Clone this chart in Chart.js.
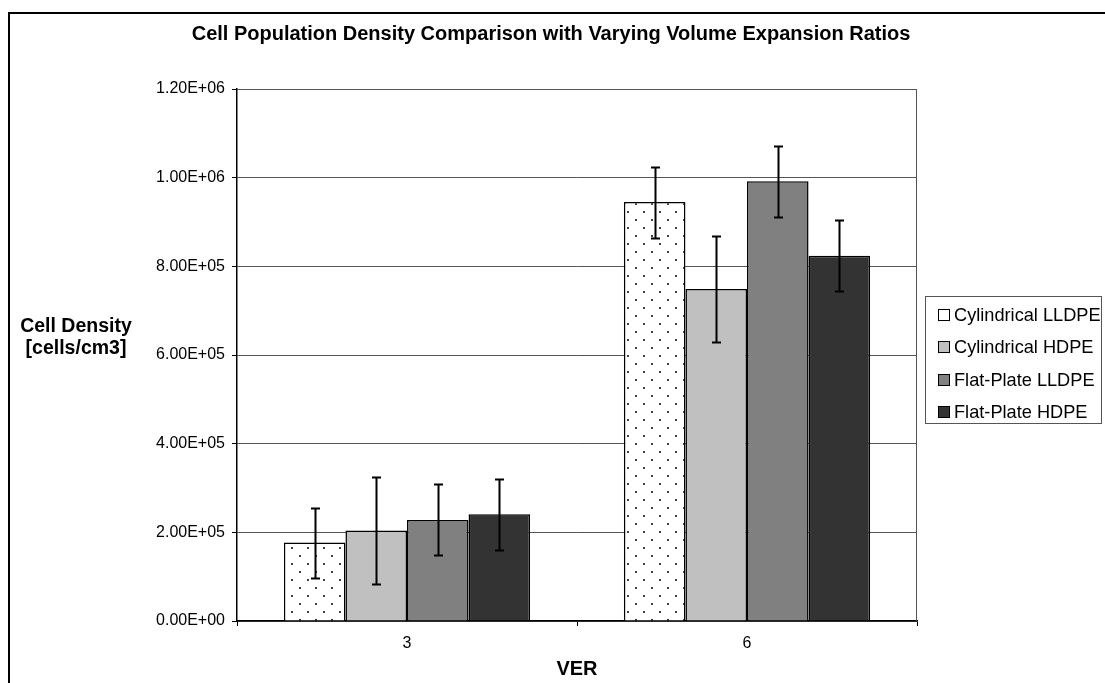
<!DOCTYPE html>
<html>
<head>
<meta charset="utf-8">
<script src="https://cdn.jsdelivr.net/npm/chart.js@4.4.1/dist/chart.umd.min.js"></script>
<style>
  html, body { margin: 0; padding: 0; background: #fff; }
  canvas { display: block; }
</style>
</head>
<body>
<canvas id="c" width="1105" height="683"></canvas>
<script>
// Volume expansion ratios (x categories)
const categories = ['3', '6'];
const seriesNames = ['Cylindrical LLDPE', 'Cylindrical HDPE', 'Flat-Plate LLDPE', 'Flat-Plate HDPE'];

// Mean cell density [cells/cm3] per series
const cylLLDPE  = [1.77e5, 9.45e5];
const cylHDPE   = [2.04e5, 7.49e5];
const flatLLDPE = [2.28e5, 9.92e5];
const flatHDPE  = [2.41e5, 8.24e5];

// Error bar half-widths (+/-)
const cylLLDPEErr  = [7.9e4, 8.0e4];
const cylHDPEErr   = [1.2e5, 1.2e5];
const flatLLDPEErr = [8.0e4, 8.0e4];
const flatHDPEErr  = [8.0e4, 8.0e4];

// Value axis tick values
const yTicks = [0, 2e5, 4e5, 6e5, 8e5, 1.0e6, 1.2e6];

const FONT = "'Liberation Sans', Arial, Helvetica, sans-serif";

// Excel-style scientific label: 1.20E+06
function sci(v) {
  const parts = Number(v).toExponential(2).split('e');
  const sign = parts[1][0];
  const digits = parts[1].slice(1).padStart(2, '0');
  return parts[0] + 'E' + sign + digits;
}

// Dotted fill for the first series
function dotPattern() {
  const t = document.createElement('canvas');
  t.width = 16; t.height = 16;
  const g = t.getContext('2d');
  g.fillStyle = '#fff';
  g.fillRect(0, 0, 16, 16);
  g.fillStyle = '#444';
  g.fillRect(3, 3, 2, 2);
  g.fillRect(11, 11, 2, 2);
  return document.getElementById('c').getContext('2d').createPattern(t, 'repeat');
}

const fills = [dotPattern(), '#c0c0c0', '#808080', '#333333'];
const swatches = ['#ffffff', '#c0c0c0', '#808080', '#333333'];
const values = [cylLLDPE, cylHDPE, flatLLDPE, flatHDPE];
const errors = [cylLLDPEErr, cylHDPEErr, flatLLDPEErr, flatHDPEErr];

const datasets = seriesNames.map((name, i) => ({
  label: name,
  data: values[i],
  errors: errors[i],
  backgroundColor: fills[i],
  borderColor: '#000',
  borderWidth: 1.5,
  categoryPercentage: 0.724,
  barPercentage: 1.0
}));

const decorations = {
  id: 'decorations',
  beforeDraw(chart) {
    const ctx = chart.ctx;
    ctx.save();
    ctx.fillStyle = '#fff';
    ctx.fillRect(0, 0, chart.width, chart.height);
    // outer chart frame
    ctx.strokeStyle = '#000';
    ctx.lineWidth = 2;
    ctx.strokeRect(9, 13, 1300, 900);
    ctx.restore();
  },
  beforeDatasetsDraw(chart) {
    const ctx = chart.ctx, a = chart.chartArea;
    ctx.save();
    ctx.strokeStyle = '#555';
    ctx.lineWidth = 1;
    ctx.beginPath();
    ctx.moveTo(a.left, a.top + 0.5);
    ctx.lineTo(a.right - 0.5, a.top + 0.5);
    ctx.lineTo(a.right - 0.5, a.bottom);
    ctx.stroke();
    ctx.restore();
  },
  afterDatasetsDraw(chart) {
    const ctx = chart.ctx, y = chart.scales.y;
    ctx.save();
    ctx.strokeStyle = '#000';
    ctx.lineWidth = 2;
    chart.data.datasets.forEach((ds, i) => {
      const meta = chart.getDatasetMeta(i);
      meta.data.forEach((bar, j) => {
        const v = ds.data[j], e = ds.errors[j];
        const x = Math.round(bar.x) + 0.5;
        const yt = Math.round(y.getPixelForValue(v + e)) + 0.5;
        const yb = Math.round(y.getPixelForValue(v - e)) + 0.5;
        ctx.beginPath();
        ctx.moveTo(x, yt); ctx.lineTo(x, yb);
        ctx.moveTo(x - 4.5, yt); ctx.lineTo(x + 4.5, yt);
        ctx.moveTo(x - 4.5, yb); ctx.lineTo(x + 4.5, yb);
        ctx.stroke();
      });
    });
    ctx.restore();
  },
  afterDraw(chart) {
    const ctx = chart.ctx;
    ctx.save();
    ctx.fillStyle = '#000';
    ctx.textBaseline = 'middle';
    ctx.textAlign = 'center';
    // chart title
    ctx.font = 'bold 20px ' + FONT;
    ctx.fillText('Cell Population Density Comparison with Varying Volume Expansion Ratios', 551, 34);
    // value axis title (horizontal, two lines)
    ctx.font = 'bold 19.5px ' + FONT;
    ctx.fillText('Cell Density', 76, 327);
    ctx.fillText('[cells/cm3]', 76, 349);
    // category axis title
    ctx.font = 'bold 20px ' + FONT;
    ctx.fillText('VER', 577, 669);

    // legend
    const lx = 925, ly = 296, lw = 176, lh = 127;
    ctx.strokeStyle = '#555';
    ctx.lineWidth = 1;
    ctx.strokeRect(lx + 0.5, ly + 0.5, lw, lh);
    ctx.textAlign = 'left';
    ctx.font = '18.2px ' + FONT;
    chart.data.datasets.forEach((ds, i) => {
      const cy = 314.5 + i * 32.5;
      ctx.fillStyle = swatches[i];
      ctx.fillRect(938, Math.round(cy - 6), 12, 12);
      ctx.strokeStyle = '#000';
      ctx.strokeRect(938.5, Math.round(cy - 6) + 0.5, 11, 11);
      ctx.fillStyle = '#000';
      ctx.fillText(ds.label, 954, cy + 1);
    });
    ctx.restore();
  }
};

new Chart(document.getElementById('c'), {
  type: 'bar',
  data: { labels: categories, datasets },
  options: {
    responsive: false,
    animation: false,
    devicePixelRatio: 1,
    layout: { padding: { left: 0, top: 89, right: 188, bottom: 0 } },
    plugins: {
      legend: { display: false },
      title: { display: false },
      tooltip: { enabled: false }
    },
    scales: {
      x: {
        afterFit(s) { s.height = 62; },
        grid: {
          display: true,
          offset: true,
          drawOnChartArea: false,
          drawTicks: true,
          tickLength: 5,
          tickColor: '#000'
        },
        border: { display: true, color: '#000', width: 1.5 },
        ticks: { color: '#000', font: { family: FONT, size: 16 }, padding: 8 }
      },
      y: {
        min: 0,
        max: 1.2e6,
        afterFit(s) { s.width = 237; },
        afterBuildTicks(s) { s.ticks = yTicks.map(v => ({ value: v })); },
        grid: {
          color: '#555',
          lineWidth: 1,
          drawTicks: true,
          tickLength: 5,
          tickColor: '#000'
        },
        border: { display: true, color: '#000', width: 1.5 },
        ticks: {
          color: '#000',
          font: { family: FONT, size: 16 },
          padding: 7,
          callback: v => sci(v)
        }
      }
    }
  },
  plugins: [decorations]
});
</script>
</body>
</html>
